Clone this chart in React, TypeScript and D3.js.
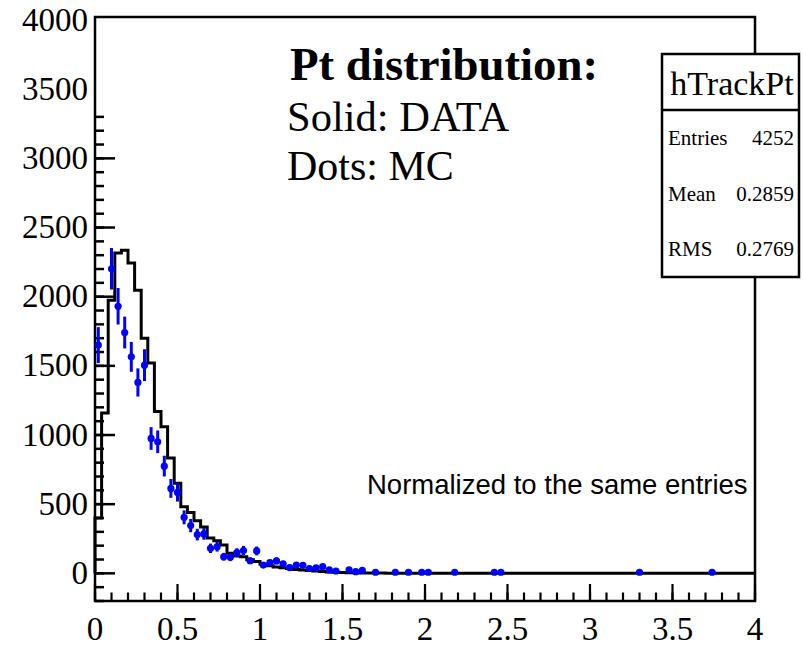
import React from "react";
import * as d3 from "d3";

// DATA histogram (solid), bin width 0.04 starting at 0; bins beyond the list are empty
const BIN_W = 0.04;
const dataCounts = [
  400, 1160, 1975, 2315, 2336, 2243, 2047, 1700, 1520, 1170,
  1060, 833, 652, 481, 440, 380, 335, 255, 235, 205,
  145, 125, 120, 98, 85, 65, 55, 45, 40, 35,
  28, 24, 20, 17, 14, 10, 8, 6, 5, 4,
  3, 3, 2, 2, 1, 1, 1, 0,
];

// MC points (dots with error bars): bin centres, values, errors
const mcX = [
  0.02, 0.10, 0.14, 0.18, 0.22, 0.26, 0.30, 0.34, 0.38, 0.42,
  0.46, 0.50, 0.54, 0.58, 0.62, 0.66, 0.70, 0.74, 0.78, 0.82,
  0.86, 0.90, 0.94, 0.98, 1.02, 1.06, 1.10, 1.14, 1.18, 1.22,
  1.26, 1.30, 1.34, 1.38, 1.42, 1.46, 1.54, 1.58, 1.62, 1.70,
  1.82, 1.90, 1.98, 2.02, 2.18, 2.42, 2.46, 3.30, 3.74,
];
const mcVal = [
  1650, 2202, 1931, 1741, 1565, 1380, 1505, 975, 951, 775,
  614, 585, 405, 345, 280, 285, 181, 192, 120, 116,
  150, 165, 91, 162, 60, 77, 90, 68, 42, 60,
  58, 35, 40, 48, 25, 17, 25, 12, 22, 8,
  8, 8, 8, 8, 8, 8, 8, 8, 8,
];
const mcErr = [
  130, 150, 132, 115, 108, 102, 115, 82, 82, 75,
  68, 66, 50, 48, 42, 42, 34, 35, 28, 28,
  31, 33, 24, 32, 20, 22, 24, 21, 17, 20,
  20, 15, 16, 18, 13, 11, 13, 9, 12, 7,
  7, 7, 7, 7, 7, 7, 7, 7, 7,
];

const xTickValues = [0, 0.5, 1, 1.5, 2, 2.5, 3, 3.5, 4];
const xTickLabels = ["0", "0.5", "1", "1.5", "2", "2.5", "3", "3.5", "4"];
const yTickValues = [0, 500, 1000, 1500, 2000, 2500, 3000, 3500, 4000];
const yTickLabels = ["0", "500", "1000", "1500", "2000", "2500", "3000", "3500", "4000"];
const yMajorTicks = [0, 500, 1000, 1500, 2000, 2500, 3000];

const statsTitle = "hTrackPt";
const statsNames = ["Entries", "Mean", "RMS"];
const statsValues = ["4252", "0.2859", "0.2769"];

const SERIF = "'Liberation Serif', 'Times New Roman', serif";
const SANS = "'Liberation Sans', Arial, sans-serif";

export default function App() {
  const W = 803;
  const H = 646;
  const x = d3.scaleLinear().domain([0, 4]).range([95, 755]);
  const y = d3.scaleLinear().domain([-200, 4022]).range([601, 17]);

  const path = d3.path();
  path.moveTo(x(0), y(0));
  dataCounts.forEach((c, i) => {
    path.lineTo(x(i * BIN_W), y(c));
    path.lineTo(x((i + 1) * BIN_W), y(c));
  });
  path.lineTo(x(dataCounts.length * BIN_W), y(0));
  path.lineTo(x(4), y(0));

  const xMinor = d3.range(0, 40.5, 1).map((k) => k / 10);
  const yMinor = d3.range(-2, 33.5, 1).map((k) => k * 100);

  const fx0 = x(0), fx1 = x(4), fy0 = y(4022), fy1 = y(-200);

  return (
    <svg
      width={W}
      height={H}
      style={{ position: "absolute", left: 0, top: 0, display: "block", background: "#fff" }}
    >
      <rect x={0} y={0} width={W} height={H} fill="#fff" />
      {/* frame */}
      <rect x={fx0} y={fy0} width={fx1 - fx0} height={fy1 - fy0} fill="none" stroke="#000" strokeWidth={2.5} />

      {/* y ticks */}
      {yMinor.map((v) => (
        <line key={"ym" + v} x1={fx0} x2={fx0 + 9} y1={y(v)} y2={y(v)} stroke="#000" strokeWidth={2.5} />
      ))}
      {yMajorTicks.map((v) => (
        <line key={"yM" + v} x1={fx0} x2={fx0 + 20} y1={y(v)} y2={y(v)} stroke="#000" strokeWidth={2.5} />
      ))}
      {yTickValues.map((v, i) => (
        <text key={"yl" + v} x={88} y={y(v) + 10.5} textAnchor="end" fontFamily={SERIF} fontSize={33} fill="#000">
          {yTickLabels[i]}
        </text>
      ))}

      {/* x ticks */}
      {xMinor.map((v) => (
        <line key={"xm" + v} x1={x(v)} x2={x(v)} y1={fy1} y2={fy1 - 8.5} stroke="#000" strokeWidth={2.2} />
      ))}
      {xTickValues.map((v) => (
        <line key={"xM" + v} x1={x(v)} x2={x(v)} y1={fy1} y2={fy1 - 17} stroke="#000" strokeWidth={2.2} />
      ))}
      {xTickValues.map((v, i) => (
        <text key={"xl" + v} x={x(v)} y={640} textAnchor="middle" fontFamily={SERIF} fontSize={33} fill="#000">
          {xTickLabels[i]}
        </text>
      ))}

      {/* DATA histogram */}
      <path d={path.toString()} fill="none" stroke="#000" strokeWidth={3} strokeLinejoin="miter" />

      {/* MC points */}
      {mcX.map((cx, i) => (
        <g key={"mc" + i}>
          <line
            x1={x(cx)}
            x2={x(cx)}
            y1={y(mcVal[i] - mcErr[i])}
            y2={y(mcVal[i] + mcErr[i])}
            stroke="#0000ff"
            strokeWidth={3}
          />
          <circle cx={x(cx)} cy={y(mcVal[i])} r={3.6} fill="#0000ff" />
        </g>
      ))}

      {/* annotations */}
      <text x={290} y={80} fontFamily={SERIF} fontWeight="bold" fontSize={46.8} fill="#000">
        Pt distribution:
      </text>
      <text x={287} y={131} fontFamily={SERIF} fontSize={42.5} fill="#000">
        Solid: DATA
      </text>
      <text x={287} y={180} fontFamily={SERIF} fontSize={42} fill="#000">
        Dots: MC
      </text>
      <text x={367} y={494} fontFamily={SANS} fontSize={27.5} fill="#000">
        Normalized to the same entries
      </text>

      {/* stats box */}
      <rect x={662} y={54} width={137} height={223} fill="#fff" stroke="#000" strokeWidth={2.5} />
      <line x1={662} x2={799} y1={110} y2={110} stroke="#000" strokeWidth={2.5} />
      <text x={732} y={95} textAnchor="middle" fontFamily={SERIF} fontSize={34} fill="#000">
        {statsTitle}
      </text>
      {statsNames.map((n, i) => (
        <g key={"st" + n}>
          <text x={668} y={145 + i * 55.5} fontFamily={SERIF} fontSize={21} fill="#000">
            {n}
          </text>
          <text x={794} y={145 + i * 55.5} textAnchor="end" fontFamily={SERIF} fontSize={21} fill="#000">
            {statsValues[i]}
          </text>
        </g>
      ))}
    </svg>
  );
}
